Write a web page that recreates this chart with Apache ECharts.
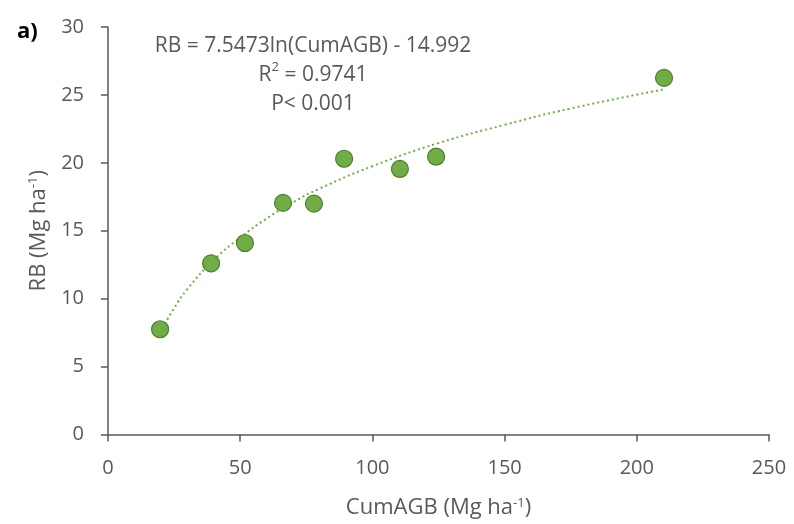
<!DOCTYPE html>
<html lang="en" style="height: 100%">
<head>
  <meta charset="utf-8" />
  <script src="https://cdn.jsdelivr.net/npm/echarts@6.0.0/dist/echarts.min.js"></script>
</head>
<body style="height: 100%; margin: 0; background: #fff">
  <div id="container" style="width: 794px; height: 524px"></div>
  <script>
    // observed points
    var cumAGB = [19.7, 39.0, 51.8, 66.2, 77.9, 89.3, 110.4, 124.1, 210.3];
    var rb = [7.75, 12.6, 14.1, 17.05, 17.0, 20.3, 19.55, 20.45, 26.25];

    // trendline
    var trendX = [19.7, 25, 30, 40, 50, 60, 70, 80, 100, 125, 150, 175, 210];
    var trendY = [7.5, 9.3, 10.7, 12.85, 14.5, 15.9, 17.1, 18.1, 19.75, 21.45, 22.8, 24.0, 25.4];

    var xTicks = [0, 50, 100, 150, 200, 250];
    var yTicks = [0, 5, 10, 15, 20, 25, 30];

    var eqLines = ["RB = 7.5473ln(CumAGB) - 14.992", "R{sup|2} = 0.9741", "P< 0.001"];

    var font = "Open Sans";
    var grey = "#595959";

    var dom = document.getElementById("container");
    var myChart = echarts.init(dom, null, { renderer: "canvas" });

    var option = {
      animation: false,
      textStyle: { fontFamily: font },
      grid: { left: 108, right: 25, top: 27, bottom: 87 },
      title: [
        {
          text: "a)", left: 12, top: 16,
          textStyle: { fontSize: 22, fontWeight: "bold", color: "#000", fontFamily: font }
        },
        {
          text: eqLines.join("\n"), left: 308, top: 27, textAlign: "center",
          textStyle: {
            fontSize: 21, color: grey, fontWeight: "normal", lineHeight: 29, fontFamily: font,
            rich: { sup: { fontSize: 13, verticalAlign: "top", padding: [0, 0, 8, 0], color: grey } }
          }
        }
      ],
      xAxis: {
        type: "value", min: 0, max: 250, interval: 50,
        name: "CumAGB (Mg ha{sup|-1})", nameLocation: "middle", nameGap: 62,
        nameTextStyle: {
          fontSize: 22, color: grey,
          rich: { sup: { fontSize: 13, verticalAlign: "top", padding: [0, 0, 10, 0], color: grey } }
        },
        axisLine: { lineStyle: { color: grey, width: 1.5 } },
        axisTick: { show: true, length: 7, lineStyle: { color: grey, width: 1.5 } },
        axisLabel: { fontSize: 20, color: grey, margin: 24 },
        splitLine: { show: false }
      },
      yAxis: {
        type: "value", min: 0, max: 30, interval: 5,
        name: "RB (Mg ha{sup|-1})", nameLocation: "middle", nameGap: 58, nameRotate: 90,
        nameTextStyle: {
          fontSize: 22, color: grey,
          rich: { sup: { fontSize: 13, verticalAlign: "top", padding: [0, 0, 10, 0], color: grey } }
        },
        axisLine: { show: true, lineStyle: { color: grey, width: 1.5 } },
        axisTick: { show: true, length: 7, lineStyle: { color: grey, width: 1.5 } },
        axisLabel: { fontSize: 20, color: grey, margin: 24 },
        splitLine: { show: false }
      },
      series: [
        {
          type: "line",
          data: trendX.map(function (x, i) { return [x, trendY[i]]; }),
          smooth: true,
          showSymbol: false,
          lineStyle: { color: "#70AD47", width: 2, type: [2, 3] },
          z: 1
        },
        {
          type: "scatter",
          data: cumAGB.map(function (x, i) { return [x, rb[i]]; }),
          symbolSize: 17,
          itemStyle: { color: "#70AD47", borderColor: "#4E7F30", borderWidth: 1.2, opacity: 1 },
          z: 2
        }
      ]
    };

    myChart.setOption(option);
  </script>
</body>
</html>
